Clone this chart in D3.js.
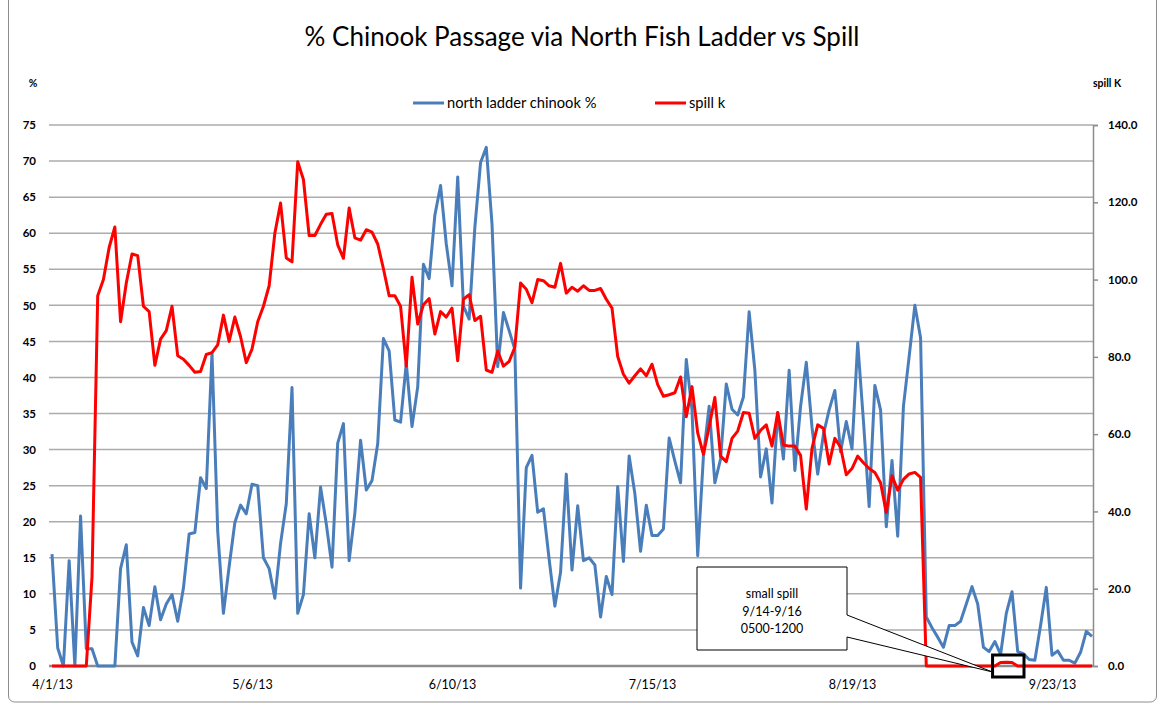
<!DOCTYPE html>
<html>
<head>
<meta charset="utf-8">
<script src="https://cdn.jsdelivr.net/npm/d3@7"></script>
<style>
  body { margin: 0; background: #fff; }
  text { font-family: Lato, "Open Sans", sans-serif; fill: #000; }
</style>
</head>
<body>
<div id="chart"></div>
<script>
// daily values, 4/1/13 .. 9/30/13
const startDay = "4/1/13";

const ladderPct = [
  15.5, 2.5, 0, 14.6, 0, 20.8, 2.4, 2.4, 0, 0,
  0, 0, 13.5, 16.8, 3.3, 1.4, 8.1, 5.6, 11, 6.4,
  8.6, 9.9, 6.2, 10.8, 18.3, 18.5, 26.1, 24.6, 43.4, 18.7,
  7.3, 13.8, 19.9, 22.3, 21.1, 25.2, 25, 15, 13.5, 9.4,
  17, 22.5, 38.6, 7.3, 9.9, 21.1, 15, 24.8, 19.7, 13.7,
  30.9, 33.6, 14.6, 21.2, 31.3, 24.4, 25.7, 30.8, 45.4, 43.7,
  34.1, 33.8, 42, 33.2, 38.7, 55.7, 53.7, 62.5, 66.6, 58.5,
  52.7, 67.8, 49.9, 48.1, 60.8, 69.8, 71.9, 61.3, 41.5, 49,
  46.5, 43.9, 10.8, 27.5, 29.2, 21.3, 21.8, 14.8, 8.3, 13,
  26.6, 13.3, 22.2, 14.6, 15, 14, 6.8, 12.4, 9.9, 24.9,
  14.5, 29.1, 23.9, 15.9, 22.3, 18.1, 18.1, 19, 31.6, 28.4,
  25.4, 42.5, 35.5, 15.3, 29.1, 36, 25.4, 28.7, 39.1, 35.6,
  34.8, 37.3, 49.1, 41, 26.2, 30.1, 22.6, 35.1, 28.7, 41,
  27.1, 36, 42.1, 33.1, 26.6, 32.1, 35.5, 38.2, 29.7, 33.9,
  30.1, 44.8, 34, 22.1, 38.9, 35.5, 19.3, 28.5, 18, 36,
  42.9, 50, 45.5, 6.8, 5.3, 4, 2.6, 5.6, 5.6, 6.2,
  8.6, 11, 8.6, 2.6, 2, 3.4, 1.6, 7.3, 10.3, 2,
  1.7, 0.9, 0.8, 5.6, 10.9, 1.5, 2.1, 0.8, 0.8, 0.4,
  1.9, 4.8, 4.1
];

const spillK = [
  0, 0, 0, 0, 0, 0, 0, 23, 95.8, 100,
  108.3, 113.6, 89.1, 99.1, 106.6, 106.2, 93.1, 91.7, 77.8, 84.6,
  86.8, 93.1, 80.3, 79.4, 77.8, 76, 76.2, 80.6, 81.1, 83.1,
  90.8, 84, 90.3, 85.2, 78.5, 82, 89.1, 93.1, 98.4, 112,
  119.8, 105.6, 104.6, 130.5, 125.9, 111.4, 111.4, 114.3, 116.9, 117.1,
  109, 105.5, 118.5, 110.8, 110.2, 112.9, 112.3, 109.2, 102.8, 95.8,
  95.8, 93.1, 77.6, 100.6, 88.5, 93.5, 95.1, 85.9, 91.7, 90.3,
  92.6, 79, 94.9, 96.1, 89.4, 90.5, 76.6, 76, 81.5, 77.6,
  78.8, 82.5, 99.1, 97.5, 94, 100, 99.7, 98.4, 98, 104.2,
  96.5, 98, 97, 98.4, 97.2, 97.2, 97.7, 94.9, 92.6, 80.1,
  75.5, 73.2, 75.1, 76.9, 75.1, 78.1, 72.8, 69.8, 70.2, 70.7,
  74.8, 64.5, 72.3, 60.3, 54.8, 61.9, 69.5, 54.3, 52.9, 58.9,
  60.8, 65.6, 65.4, 58.9, 61, 62.4, 56.9, 65.6, 57.2, 56.9,
  56.9, 54.5, 40.6, 56.3, 62.4, 61.5, 52.3, 58.9, 56.6, 49.5,
  51.1, 54.3, 52.6, 51.1, 50.1, 47.4, 39.7, 49.2, 45.5, 48.3,
  49.7, 50.1, 48.8, 0, 0, 0, 0, 0, 0, 0,
  0, 0, 0, 0, 0, 0, 0.9, 1, 0.9, 0,
  0, 0, 0, 0, 0, 0, 0, 0, 0, 0,
  0, 0, 0
];

const xTickLabels = ["4/1/13", "5/6/13", "6/10/13", "7/15/13", "8/19/13", "9/23/13"];
const leftTicks = d3.range(0, 76, 5);
const rightTicks = d3.range(0, 141, 20);
const seriesNames = ["north ladder chinook %", "spill k"];
const noteLines = ["small spill", "9/14-9/16", "0500-1200"];
const noteDays = ["9/14/13", "9/16/13"];

const width = 1158, height = 707;
const plot = { left: 52, right: 1092, top: 125, bottom: 666 };

const parse = d3.timeParse("%m/%d/%y");
const fmt = d3.timeFormat("%-m/%-d/%y");
const day0 = parse(startDay);
const dates = ladderPct.map((d, i) => d3.timeDay.offset(day0, i));

const svg = d3.select("#chart")
  .append("svg")
  .attr("width", width)
  .attr("height", height);

const xScale = d3.scaleTime()
  .domain([dates[0], dates[dates.length - 1]])
  .range([plot.left, plot.right]);
const yLeft = d3.scaleLinear().domain([0, 75]).range([plot.bottom, plot.top]);
const yRight = d3.scaleLinear().domain([0, 140]).range([plot.bottom, plot.top]);

// outer chart border
svg.append("rect")
  .attr("x", 8.5).attr("y", -10)
  .attr("width", 1148).attr("height", 712)
  .attr("rx", 6)
  .attr("fill", "none")
  .attr("stroke", "#8c8c8c");

// title
svg.append("text")
  .attr("x", 582).attr("y", 46)
  .attr("text-anchor", "middle")
  .style("font-size", "26px")
  .text("% Chinook Passage via North Fish Ladder vs Spill");

// gridlines
svg.append("g")
  .selectAll("line")
  .data(leftTicks.slice(1))
  .enter()
  .append("line")
  .attr("x1", plot.left - 3).attr("x2", plot.right + 1)
  .attr("y1", d => yLeft(d)).attr("y2", d => yLeft(d))
  .attr("stroke", "#ababab")
  .attr("stroke-width", 1.5);

// left axis (labels only)
const leftAxis = d3.axisLeft(yLeft).tickValues(leftTicks).tickSize(0).tickPadding(16);
svg.append("g")
  .attr("transform", `translate(${plot.left},0)`)
  .call(leftAxis)
  .call(g => g.select(".domain").remove())
  .selectAll("text")
  .style("font-family", "Lato, sans-serif")
  .style("font-size", "11.5px")
  .style("font-weight", "bold");

// right axis
const rightAxis = d3.axisRight(yRight).tickValues(rightTicks).tickSize(5).tickPadding(10).tickFormat(d3.format(".1f"));
svg.append("g")
  .attr("transform", `translate(${plot.right + 1},0)`)
  .call(rightAxis)
  .call(g => g.select(".domain").attr("stroke", "#8c8c8c").attr("stroke-width", 1.5))
  .call(g => g.selectAll("line").attr("stroke", "#8c8c8c").attr("stroke-width", 1.5))
  .selectAll("text")
  .style("font-family", "Lato, sans-serif")
  .style("font-size", "11.5px")
  .style("font-weight", "bold");

// bottom axis
const bottomAxis = d3.axisBottom(xScale)
  .tickValues(xTickLabels.map(parse))
  .tickSize(0).tickPadding(14)
  .tickFormat(fmt);
svg.append("g")
  .attr("transform", `translate(0,${plot.bottom})`)
  .call(bottomAxis)
  .call(g => g.select(".domain").attr("d", `M${plot.left - 3},0H${plot.right + 1}`)
    .attr("stroke", "#8c8c8c").attr("stroke-width", 2.5))
  .selectAll("text")
  .style("font-family", "Lato, sans-serif")
  .style("font-size", "12.5px");

// axis titles
svg.append("text").attr("x", 33).attr("y", 87).attr("text-anchor", "middle")
  .style("font-size", "10.5px").style("font-weight", "bold").text("%");
svg.append("text").attr("x", 1107).attr("y", 87).attr("text-anchor", "middle")
  .style("font-size", "10.5px").style("font-weight", "bold").text("spill K");

// series
const ladderLine = d3.line()
  .x((d, i) => xScale(dates[i]))
  .y(d => yLeft(d));
const spillLine = d3.line()
  .x((d, i) => xScale(dates[i]))
  .y(d => yRight(d));

svg.append("path")
  .datum(ladderPct)
  .attr("d", ladderLine)
  .attr("fill", "none")
  .attr("stroke", "#4a7ebb")
  .attr("stroke-width", 3)
  .attr("stroke-linejoin", "round");

svg.append("path")
  .datum(spillK)
  .attr("d", spillLine)
  .attr("fill", "none")
  .attr("stroke", "#ff0000")
  .attr("stroke-width", 3)
  .attr("stroke-linejoin", "round");

// legend
const legend = svg.append("g").attr("transform", "translate(413,103)");
const legendColors = ["#4a7ebb", "#ff0000"];
const legendX = [0, 242];
seriesNames.forEach((name, i) => {
  legend.append("line")
    .attr("x1", legendX[i]).attr("x2", legendX[i] + 31)
    .attr("y1", 0).attr("y2", 0)
    .attr("stroke", legendColors[i]).attr("stroke-width", 3);
  legend.append("text")
    .attr("x", legendX[i] + 34).attr("y", 5)
    .style("font-size", "14.7px")
    .text(name);
});

// callout for the small spill
const spillStart = xScale(parse(noteDays[0])), spillEnd = xScale(parse(noteDays[1]));
const markBox = { x: spillStart - 8, y: plot.bottom - 11, w: spillEnd - spillStart + 20, h: 22 };
const note = { x: 697, y: 567, w: 150, h: 83 };
const tip = [markBox.x, plot.bottom + 6];

svg.append("path")
  .attr("d", `M${note.x},${note.y}H${note.x + note.w}V${note.y + 48}L${tip[0]},${tip[1]}` +
    `L${note.x + note.w},${note.y + 70}V${note.y + note.h}H${note.x}Z`)
  .attr("fill", "#fff")
  .attr("stroke", "#000")
  .attr("stroke-width", 1);

svg.append("g")
  .selectAll("text")
  .data(noteLines)
  .enter()
  .append("text")
  .attr("x", note.x + note.w / 2)
  .attr("y", (d, i) => note.y + 31 + i * 17.5)
  .attr("text-anchor", "middle")
  .style("font-size", "12.5px")
  .text(d => d);

svg.append("rect")
  .attr("x", markBox.x).attr("y", markBox.y)
  .attr("width", markBox.w).attr("height", markBox.h)
  .attr("fill", "none")
  .attr("stroke", "#000")
  .attr("stroke-width", 3);
</script>
</body>
</html>
